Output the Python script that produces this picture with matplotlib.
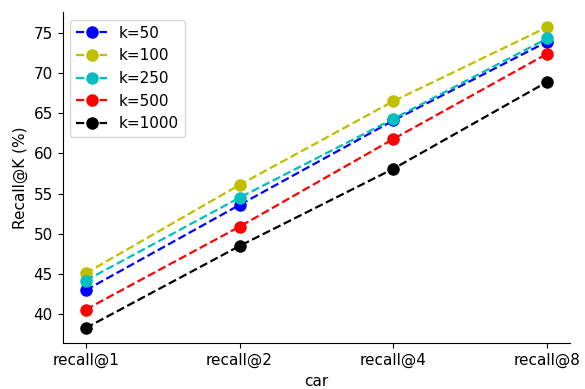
import matplotlib
matplotlib.use('Agg')
import matplotlib.pyplot as plt

#Data
labels = ['recall@1', 'recall@2', 'recall@4', 'recall@8']
k50 = [43.0, 53.6, 64.1, 73.9]
k100 = [45.1, 56.1, 66.5, 75.7]
k250 = [44.2, 54.5, 64.3, 74.3]
k500 = [40.6, 50.9, 61.8, 72.4]
k1000 = [38.3, 48.5, 58.1, 68.9]

series = [(k50, 'b', 'k=50'), (k100, 'y', 'k=100'), (k250, 'c', 'k=250'),
          (k500, 'r', 'k=500'), (k1000, 'k', 'k=1000')]

plt.rcParams['font.size'] = 11
fig, ax = plt.subplots(figsize=(5.85, 3.89), dpi=100)
x = range(len(labels))
for vals, c, lab in series:
	ax.plot(x, vals, '--o', color=c, label=lab, markersize=8, linewidth=1.6)

ax.set_xticks(list(x))
ax.set_xticklabels(labels)
ax.set_ylabel('Recall@K (%)')
ax.set_xlabel('car')
ax.spines['top'].set_visible(False)
ax.spines['right'].set_visible(False)
ax.legend(loc='upper left')
fig.subplots_adjust(left=0.107, right=0.975, top=0.969, bottom=0.118)
fig.savefig('out.png', dpi=100)
